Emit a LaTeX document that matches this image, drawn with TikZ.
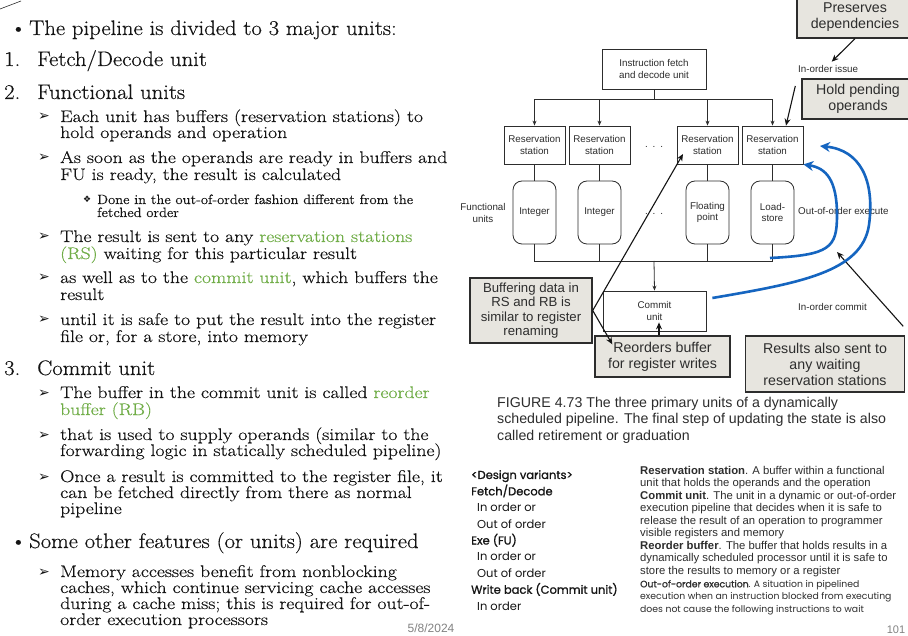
\documentclass[tikz,border=0pt]{standalone}
\usepackage{fontspec}
\setmainfont{Latin Modern Roman}[FakeStretch=1.08,FakeBold=0.35]
\newfontfamily\subfont{Latin Modern Roman}[FakeStretch=1.175,FakeBold=0.35]
\newfontfamily\dsans{Liberation Sans}
\newfontfamily\pop{Poppins}
\newfontfamily\popb{Poppins}[FakeBold=1.1]
\newfontfamily\sym{DejaVu Sans}
\usetikzlibrary{arrows.meta}
\definecolor{rsgreen}{RGB}{112,173,71}
\definecolor{callfill}{RGB}{231,229,223}
\definecolor{ink}{RGB}{45,45,45}
\definecolor{txtk}{RGB}{20,20,20}
\definecolor{myblue}{RGB}{21,101,192}
\definecolor{gry}{RGB}{130,130,130}
\newcommand\grn[1]{\textcolor{rsgreen}{#1}}
\newcommand\mytxt[5]{\node[#4] (#1) at (#2,#3) {#5};}
\newcommand\arw{{\sym\bfseries\fontsize{14}{15}\selectfont ➢}}
\newcommand\dia{{\sym\fontsize{9}{10}\selectfont ❖}}
\begin{document}
\begin{tikzpicture}[x=1pt,y=-1pt,
  lone/.style={anchor=base west, inner sep=0pt, text=txtk, font=\fontsize{21}{24}\selectfont},
  ltwo/.style={anchor=base west, inner sep=0pt, text=txtk, font=\subfont\fontsize{16.8}{18}\selectfont},
  lthree/.style={anchor=base west, inner sep=0pt, text=txtk, font=\fontsize{13.5}{15}\selectfont},
  blk/.style={draw=ink, line width=0.8pt, font=\dsans\fontsize{9.8}{11.5}\selectfont, text=ink, align=center, inner sep=0pt},
  rsbox/.style={blk, minimum width=61pt, minimum height=38pt},
  fubox/.style={blk, rounded corners=9pt, minimum width=43pt, minimum height=63pt},
  callout/.style={draw=ink, line width=1.4pt, fill=callfill, font=\dsans\fontsize{14.2}{16}\selectfont, text=ink, align=center, inner sep=0pt},
  lbl/.style={font=\dsans\fontsize{9.8}{11.5}\selectfont, text=ink, inner sep=0pt, align=center},
  ln/.style={draw=ink, line width=0.8pt},
  arr/.style={draw=ink, line width=0.8pt, -{Stealth[length=5pt,width=4pt]}},
  carr/.style={draw=txtk, line width=1.1pt, -{Stealth[length=7pt,width=6pt]}},
  blu/.style={draw=myblue, line width=2.6pt, -{Stealth[length=10pt,width=10pt]}}
]
\useasboundingbox (0,0) rectangle (908,636);
\fill[white] (0,0) rectangle (908,636);
\draw[ink, line width=0.6pt] (0,9) -- (21,1);

% ---------------- left text ----------------
\mytxt{b1}{10}{35}{lone}{\textbullet}
\mytxt{t1}{29}{35}{lone}{The pipeline is divided to 3 major units:}
\mytxt{n1}{4}{66}{lone}{1.}
\mytxt{t2}{37}{66}{lone}{Fetch/Decode unit}
\mytxt{n2}{4}{99}{lone}{2.}
\mytxt{t3}{37}{99}{lone}{Functional units}
\mytxt{a1m}{38}{121}{ltwo}{\arw}
\mytxt{a1}{60}{122}{ltwo}{Each unit has buffers (reservation stations) to}
\mytxt{a1b}{60}{138}{ltwo}{hold operands and operation}
\mytxt{a2m}{38}{162}{ltwo}{\arw}
\mytxt{a2}{60}{163}{ltwo}{As soon as the operands are ready in buffers and}
\mytxt{a2b}{60}{180}{ltwo}{FU is ready, the result is calculated}
\mytxt{s1m}{83}{203}{lthree}{\dia}
\mytxt{s1}{97}{204}{lthree}{Done in the out-of-order fashion different from the}
\mytxt{s1b}{97}{217}{lthree}{fetched order}
\mytxt{a3m}{38}{241}{ltwo}{\arw}
\mytxt{a3}{60}{242}{ltwo}{The result is sent to any \grn{reservation stations}}
\mytxt{a3b}{60}{259}{ltwo}{\grn{(RS)} waiting for this particular result}
\mytxt{a4m}{38}{282}{ltwo}{\arw}
\mytxt{a4}{60}{283}{ltwo}{as well as to the \grn{commit unit}, which buffers the}
\mytxt{a4b}{60}{300}{ltwo}{result}
\mytxt{a5m}{38}{324}{ltwo}{\arw}
\mytxt{a5}{60}{325}{ltwo}{until it is safe to put the result into the register}
\mytxt{a5b}{60}{342}{ltwo}{file or, for a store, into memory}
\mytxt{n3}{4}{375}{lone}{3.}
\mytxt{t4}{37}{375}{lone}{Commit unit}
\mytxt{a6m}{38}{397}{ltwo}{\arw}
\mytxt{a6}{60}{398}{ltwo}{The buffer in the commit unit is called \grn{reorder}}
\mytxt{a6b}{60}{415}{ltwo}{\grn{buffer (RB)}}
\mytxt{a7m}{38}{439}{ltwo}{\arw}
\mytxt{a7}{60}{440}{ltwo}{that is used to supply operands (similar to the}
\mytxt{a7b}{60}{456}{ltwo}{forwarding logic in statically scheduled pipeline)}
\mytxt{a8m}{38}{481}{ltwo}{\arw}
\mytxt{a8}{60}{482}{ltwo}{Once a result is committed to the register file, it}
\mytxt{a8b}{60}{498}{ltwo}{can be fetched directly from there as normal}
\mytxt{a8c}{60}{514}{ltwo}{pipeline}
\mytxt{b2}{10}{548}{lone}{\textbullet}
\mytxt{t5}{29}{548}{lone}{Some other features (or units) are required}
\mytxt{a9m}{38}{576}{ltwo}{\arw}
\mytxt{a9}{60}{577}{ltwo}{Memory accesses benefit from nonblocking}
\mytxt{a9b}{60}{593}{ltwo}{caches, which continue servicing cache accesses}
\mytxt{a9c}{60}{609}{ltwo}{during a cache miss; this is required for out-of-}
\mytxt{a9d}{60}{625}{ltwo}{order execution processors}
\node[font=\dsans\fontsize{12}{13}\selectfont, text=gry, inner sep=0pt] (date) at (431,628.5) {5/8/2024};

% ---------------- diagram ----------------
\node[blk, minimum width=104pt, minimum height=40pt] (fetch) at (654,69) {Instruction fetch\\and decode unit};
\node[rsbox] (rs1) at (534.5,145) {Reservation\\station};
\node[rsbox] (rs2) at (599.5,145) {Reservation\\station};
\node[rsbox] (rs3) at (707.5,145) {Reservation\\station};
\node[rsbox] (rs4) at (772.5,145) {Reservation\\station};
\node[lbl] (dots1) at (654,147) {.\enspace.\enspace.};
\node[fubox] (fu1) at (534.5,212.5) {Integer};
\node[fubox] (fu2) at (599.5,212.5) {Integer};
\node[fubox] (fu3) at (707.5,212.5) {Floating\\point};
\node[fubox] (fu4) at (772.5,212.5) {Load-\\store};
\node[lbl] (dots2) at (654,214) {.\enspace.\enspace.};
\node[lbl] (fulbl) at (483,213) {Functional\\units};
\node[blk, minimum width=103pt, minimum height=40pt] (commit) at (654.5,311) {Commit\\unit};

\coordinate (bt) at (654,99);
\coordinate (bb) at (654,261);
\draw[ln] (fetch.south) -- (bt);
\draw[arr] (bt) -| (rs1.north);
\draw[arr] (bt) -| (rs2.north);
\draw[arr] (bt) -| (rs3.north);
\draw[arr] (bt) -| (rs4.north);
\draw[ln] (rs1) -- (fu1);
\draw[ln] (rs2) -- (fu2);
\draw[ln] (rs3) -- (fu3);
\draw[ln] (rs4) -- (fu4);
\draw[ln] (fu1.south) |- (bb);
\draw[ln] (fu2.south) |- (bb);
\draw[ln] (fu3.south) |- (bb);
\draw[ln] (fu4.south) |- (bb);
\draw[arr] (bb) -- (commit.north);

\node[lbl, anchor=west] (issue) at (798,69) {In-order issue};
\node[lbl, anchor=west] (ooex) at (798,211) {Out-of-order execute};
\node[lbl, anchor=west] (ocom) at (798,307) {In-order commit};

% callouts
\node[callout, minimum width=116pt, minimum height=42pt] (pres) at (855,17) {Preserves\\dependencies};
\node[callout, minimum width=112pt, minimum height=40pt] (hold) at (858,99) {Hold pending\\operands};
\node[callout, minimum width=122pt, minimum height=65pt, font=\dsans\fontsize{13.2}{14.5}\selectfont] (buf) at (531,310.5) {Buffering data in\\RS and RB is\\similar to register\\renaming};
\node[callout, minimum width=135pt, minimum height=41pt] (reord) at (662.5,356.5) {Reorders buffer\\for register writes};
\node[callout, minimum width=159pt, minimum height=56pt] (results) at (825,364) {Results also sent to\\any waiting\\reservation stations};

\coordinate (ooe) at (837,252);
\draw[carr, shorten >=5pt] (pres.south) -- (issue.north);
\draw[carr] ([xshift=-6pt,yshift=13pt]hold.west) -- ([xshift=13.5pt]rs4.north);
\draw[carr] (buf.east) -- ([xshift=-24.5pt,yshift=-9pt]rs3.center);
\draw[carr] (buf.east) -- ([xshift=18pt,yshift=-9pt]reord.north west);
\draw[carr] ([xshift=-3.5pt]reord.north) -- ([xshift=4.5pt,yshift=9pt]commit.south);
\draw[carr] ([xshift=-2pt,yshift=9pt]results.north east) -- (ooe);

% blue feedback curves
\draw[blu] ([xshift=-2.5pt,yshift=3pt]fu4.south |- bb) .. controls (830,255) and (837,248) .. (837,215) .. controls (837,180) and (826,168) .. (rs4.south east);
\coordinate (c2e) at (820,146);
\draw[blu] ([xshift=6pt,yshift=13pt]commit.east) .. controls (800,283) and (862,272) .. (869,225) .. controls (875,180) and (860,150) .. (c2e);

% ---------------- caption & notes ----------------
\node[anchor=north west, align=left, inner sep=0pt, text=ink, font=\dsans\fontsize{14.2}{16.5}\selectfont] (cap) at (497,397) {FIGURE 4.73 The three primary units of a dynamically\\scheduled pipeline. The final step of updating the state is also\\called retirement or graduation};

\node[anchor=north west, align=left, inner sep=0pt, text=txtk, font=\pop\fontsize{11.5}{16.4}\selectfont] (design) at (471,470) {{\popb <Design variants>}\\{\popb Fetch/Decode}\\\hspace*{6pt}In order or\\\hspace*{6pt}Out of order\\{\popb Exe (FU)}\\\hspace*{6pt}In order or\\\hspace*{6pt}Out of order\\{\popb Write back (Commit unit)}\\\hspace*{6pt}In order};

\node[anchor=north west, align=left, inner sep=0pt, text=ink, font=\dsans\fontsize{11.3}{12.5}\selectfont] (defs) at (640,466) {\textbf{Reservation station}. A buffer within a functional\\unit that holds the operands and the operation\\\textbf{Commit unit}. The unit in a dynamic or out-of-order\\execution pipeline that decides when it is safe to\\release the result of an operation to programmer\\visible registers and memory\\\textbf{Reorder buffer}. The buffer that holds results in a\\dynamically scheduled processor until it is safe to\\store the results to memory or a register};
\node[anchor=north west, align=left, inner sep=0pt, text=ink, font=\pop\fontsize{9.3}{12.5}\selectfont] (defs2) at (640,580) {{\popb Out-of-order execution}. A situation in pipelined\\execution when an instruction blocked from executing\\does not cause the following instructions to wait};
\node[font=\dsans\fontsize{11}{13}\selectfont, text=gry, inner sep=0pt] (pnum) at (896,630) {101};
\end{tikzpicture}
\end{document}
